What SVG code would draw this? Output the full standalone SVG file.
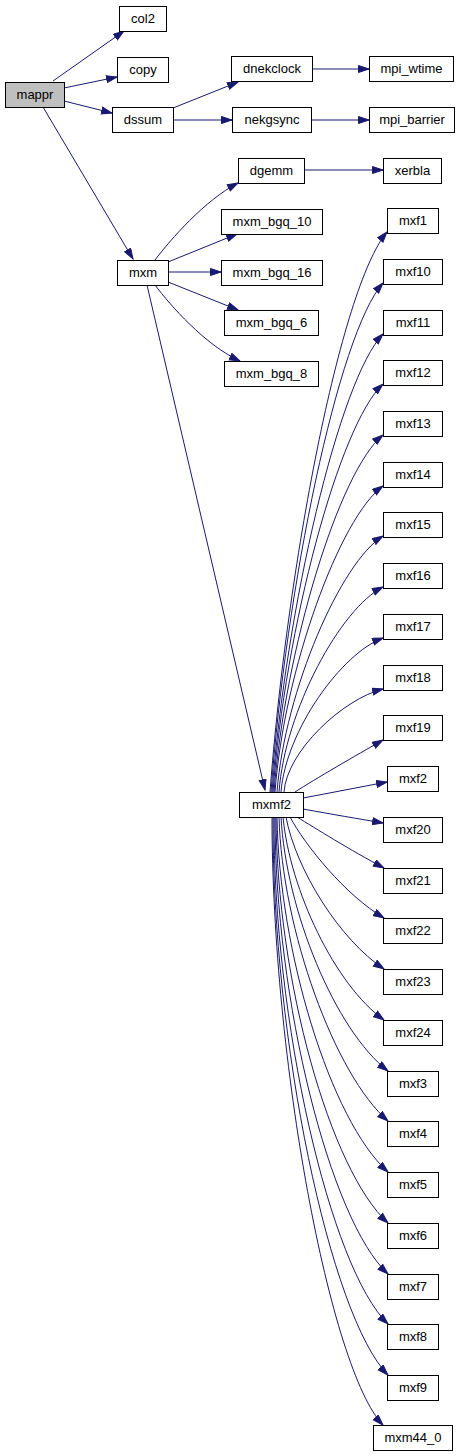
<svg xmlns="http://www.w3.org/2000/svg" width="461" height="1456" viewBox="0 0 461 1456">
<style>
.n rect{fill:#ffffff;stroke:#000000;stroke-width:1}
.n.root rect{fill:#bfbfbf}
.n text{font-family:"Liberation Sans",Arial,sans-serif;font-size:13px;text-anchor:middle;fill:#000000}
.e path{fill:none;stroke:#191970;stroke-width:1;marker-end:url(#ah)}
</style>
<defs>
<marker id="ah" markerUnits="userSpaceOnUse" markerWidth="13" markerHeight="10" refX="11" refY="4" orient="auto">
<path d="M0.5,0.5 L11,4 L0.5,7.5 z" fill="#191970" stroke="#191970" stroke-width="1"/>
</marker>
</defs>
<rect width="461" height="1456" fill="#ffffff"/>
<g id="edges" class="e">
<path d="M53,81 L124,31"/>
<path d="M64,88 L117,77"/>
<path d="M64,101 L112,113"/>
<path d="M43,107 L133,259"/>
<path d="M173,108 L238,82"/>
<path d="M173,120 L232,120"/>
<path d="M312,69 L369,69"/>
<path d="M311,120 L369,120"/>
<path d="M304,170 L383,170"/>
<path d="M155,260 C170,240 205,200 238,183"/>
<path d="M168,262 L237,234"/>
<path d="M168,272 L221,272"/>
<path d="M168,282 L238,310"/>
<path d="M155,285 C170,305 205,345 240,361"/>
<path d="M147,285 L265,790"/>
<path d="M270,792 C287,568 340,288 387,232"/>
<path d="M271,792 C286,588 338,334 383,283"/>
<path d="M272,792 C286,609 339,380 383,334"/>
<path d="M273,792 C285,629 339,425 383,384"/>
<path d="M274,792 C285,649 339,471 383,435"/>
<path d="M275,792 C284,670 340,517 383,486"/>
<path d="M277,792 C285,690 341,562 383,536"/>
<path d="M279,792 C285,710 341,608 383,587"/>
<path d="M281,792 C286,730 342,653 383,638"/>
<path d="M284,792 C287,751 343,699 383,689"/>
<path d="M295,792 C315,779 355,756 383,740"/>
<path d="M303,798 C330,793 360,787 387,782"/>
<path d="M303,809 C330,814 360,819 383,823"/>
<path d="M297,817 C315,828 350,850 384,868"/>
<path d="M290,817 C305,845 345,895 384,918"/>
<path d="M286,817 C296,870 340,940 384,969"/>
<path d="M283,817 C290,890 335,985 384,1020"/>
<path d="M281,817 C286,910 335,1030 388,1071"/>
<path d="M279,817 C282,930 335,1075 388,1121"/>
<path d="M277,817 C279,950 330,1120 388,1172"/>
<path d="M276,817 C277,980 330,1170 388,1223"/>
<path d="M275,817 C275,1000 330,1220 388,1274"/>
<path d="M274,817 C273,1020 330,1268 388,1324"/>
<path d="M273,817 C272,1040 330,1316 388,1375"/>
<path d="M272,817 C272,1060 330,1370 383,1425"/>
</g>
<g id="mappr" class="n root"><rect x="5.5" y="82.5" width="59" height="25"/><text x="35" y="99">mappr</text></g>
<g id="col2" class="n"><rect x="119.5" y="6.5" width="47" height="25"/><text x="143" y="23">col2</text></g>
<g id="copy" class="n"><rect x="117.5" y="57.5" width="51" height="25"/><text x="143" y="74">copy</text></g>
<g id="dssum" class="n"><rect x="112.5" y="107.5" width="61" height="25"/><text x="143" y="124">dssum</text></g>
<g id="dnekclock" class="n"><rect x="231.5" y="56.5" width="81" height="25"/><text x="272" y="73">dnekclock</text></g>
<g id="mpi_wtime" class="n"><rect x="369.5" y="56.5" width="84" height="25"/><text x="411.5" y="73">mpi_wtime</text></g>
<g id="nekgsync" class="n"><rect x="232.5" y="107.5" width="79" height="25"/><text x="272" y="124">nekgsync</text></g>
<g id="mpi_barrier" class="n"><rect x="369.5" y="107.5" width="85" height="25"/><text x="412" y="124">mpi_barrier</text></g>
<g id="dgemm" class="n"><rect x="238.5" y="158.5" width="66" height="25"/><text x="271.5" y="175">dgemm</text></g>
<g id="xerbla" class="n"><rect x="383.5" y="158.5" width="58" height="25"/><text x="412.5" y="175">xerbla</text></g>
<g id="mxm" class="n"><rect x="117.5" y="260.5" width="51" height="25"/><text x="143" y="277">mxm</text></g>
<g id="mxm_bgq_10" class="n"><rect x="221.5" y="209.5" width="101" height="25"/><text x="272" y="226">mxm_bgq_10</text></g>
<g id="mxm_bgq_16" class="n"><rect x="221.5" y="260.5" width="101" height="25"/><text x="272" y="277">mxm_bgq_16</text></g>
<g id="mxm_bgq_6" class="n"><rect x="224.5" y="310.5" width="94" height="25"/><text x="271.5" y="327">mxm_bgq_6</text></g>
<g id="mxm_bgq_8" class="n"><rect x="224.5" y="361.5" width="94" height="25"/><text x="271.5" y="378">mxm_bgq_8</text></g>
<g id="mxmf2" class="n"><rect x="239.5" y="792.5" width="64" height="25"/><text x="271.5" y="809">mxmf2</text></g>
<g id="mxf1" class="n"><rect x="387.5" y="208.5" width="51" height="25"/><text x="413" y="225">mxf1</text></g>
<g id="mxf10" class="n"><rect x="383.5" y="259.5" width="59" height="25"/><text x="413" y="276">mxf10</text></g>
<g id="mxf11" class="n"><rect x="383.5" y="310.5" width="59" height="25"/><text x="413" y="327">mxf11</text></g>
<g id="mxf12" class="n"><rect x="383.5" y="360.5" width="59" height="25"/><text x="413" y="377">mxf12</text></g>
<g id="mxf13" class="n"><rect x="383.5" y="411.5" width="59" height="25"/><text x="413" y="428">mxf13</text></g>
<g id="mxf14" class="n"><rect x="383.5" y="462.5" width="59" height="25"/><text x="413" y="479">mxf14</text></g>
<g id="mxf15" class="n"><rect x="383.5" y="512.5" width="59" height="25"/><text x="413" y="529">mxf15</text></g>
<g id="mxf16" class="n"><rect x="383.5" y="563.5" width="59" height="25"/><text x="413" y="580">mxf16</text></g>
<g id="mxf17" class="n"><rect x="383.5" y="614.5" width="59" height="25"/><text x="413" y="631">mxf17</text></g>
<g id="mxf18" class="n"><rect x="383.5" y="665.5" width="59" height="25"/><text x="413" y="682">mxf18</text></g>
<g id="mxf19" class="n"><rect x="383.5" y="715.5" width="59" height="25"/><text x="413" y="732">mxf19</text></g>
<g id="mxf2" class="n"><rect x="387.5" y="766.5" width="51" height="25"/><text x="413" y="783">mxf2</text></g>
<g id="mxf20" class="n"><rect x="383.5" y="817.5" width="59" height="25"/><text x="413" y="834">mxf20</text></g>
<g id="mxf21" class="n"><rect x="383.5" y="868.5" width="59" height="25"/><text x="413" y="885">mxf21</text></g>
<g id="mxf22" class="n"><rect x="383.5" y="918.5" width="59" height="25"/><text x="413" y="935">mxf22</text></g>
<g id="mxf23" class="n"><rect x="383.5" y="969.5" width="59" height="25"/><text x="413" y="986">mxf23</text></g>
<g id="mxf24" class="n"><rect x="383.5" y="1020.5" width="59" height="25"/><text x="413" y="1037">mxf24</text></g>
<g id="mxf3" class="n"><rect x="387.5" y="1071.5" width="51" height="25"/><text x="413" y="1088">mxf3</text></g>
<g id="mxf4" class="n"><rect x="387.5" y="1121.5" width="51" height="25"/><text x="413" y="1138">mxf4</text></g>
<g id="mxf5" class="n"><rect x="387.5" y="1172.5" width="51" height="25"/><text x="413" y="1189">mxf5</text></g>
<g id="mxf6" class="n"><rect x="387.5" y="1223.5" width="51" height="25"/><text x="413" y="1240">mxf6</text></g>
<g id="mxf7" class="n"><rect x="387.5" y="1274.5" width="51" height="25"/><text x="413" y="1291">mxf7</text></g>
<g id="mxf8" class="n"><rect x="387.5" y="1324.5" width="51" height="25"/><text x="413" y="1341">mxf8</text></g>
<g id="mxf9" class="n"><rect x="387.5" y="1375.5" width="51" height="25"/><text x="413" y="1392">mxf9</text></g>
<g id="mxm44_0" class="n"><rect x="373.5" y="1425.5" width="79" height="25"/><text x="413" y="1442">mxm44_0</text></g>
</svg>
